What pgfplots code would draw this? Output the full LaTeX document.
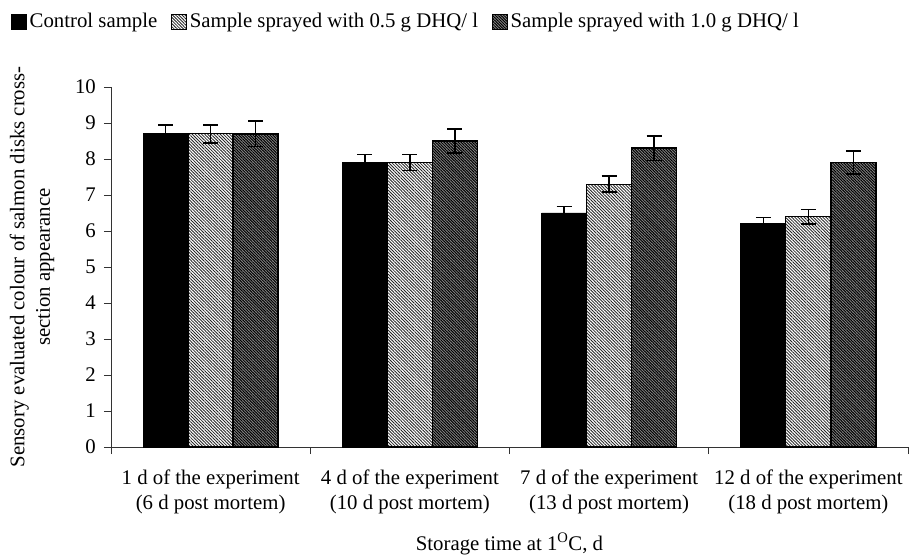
\documentclass[border=0pt]{standalone}
\usepackage{pgfplots}
\pgfplotsset{compat=1.18}
\usepackage{pgfplotstable}
\usepackage{fontspec}
\setmainfont{Liberation Serif}
\usetikzlibrary{patterns.meta}
\pgfplotstableread{
x c ce l le d de
0 8.7 0.25 8.7 0.25 8.7 0.35
1 7.9 0.22 7.9 0.22 8.5 0.33
2 6.5 0.18 7.3 0.22 8.3 0.34
3 6.2 0.18 6.4 0.20 7.9 0.32
}\data
\begin{document}
\fontsize{20.8bp}{25bp}\selectfont
\begin{tikzpicture}
\begin{axis}[
  scale only axis,
  width=797bp, height=360bp,
  xmin=-0.5, xmax=3.5, ymin=0, ymax=10,
  axis x line*=bottom, axis y line*=left,
  axis line style={-, draw=black!80, line width=0.9bp},
  ybar=0pt, bar width=0.226,
  xtick={0,1,2,3},
  xticklabels={{1 d of the experiment\\(6 d post mortem)},{4 d of the experiment\\(10 d post mortem)},{7 d of the experiment\\(13 d post mortem)},{12 d of the experiment\\(18 d post mortem)}},
  xticklabel style={align=center, font=\fontsize{20.8bp}{25bp}\selectfont, yshift=-9bp},
  major x tick style={draw=none},
  minor xtick={-0.5,0.5,1.5,2.5,3.5},
  minor x tick style={draw=black!80, line width=0.9bp},
  ytick={0,1,...,10},
  tick align=outside,
  major tick length=7bp, minor tick length=7bp,
  y tick style={draw=black!80, line width=0.9bp},
  /pgf/number format/assume math mode=true,
  yticklabel style={font=\fontsize{20.8bp}{25bp}\selectfont, xshift=-1bp},
  xlabel={Storage time at 1\textsuperscript{O}C, d},
  xlabel style={font=\fontsize{20.8bp}{25bp}\selectfont, yshift=-5bp},
  ylabel={Sensory evaluated colour of salmon disks cross-\\section appearance},
  ylabel style={at={([xshift=-79bp]rel axis cs:0,0.5)}, anchor=center, align=center,
    font=\fontsize{20.8bp}{25.5bp}\selectfont},
  legend columns=3,
  legend style={at={(axis description cs:-0.1292,1.1806)}, anchor=west, draw=none, fill=none,
    font=\fontsize{20.8bp}{25bp}\selectfont,
    /tikz/every odd column/.append style={column sep=1bp},
    /tikz/every even column/.append style={column sep=12bp}},
  legend image code/.code={\draw[#1, line width=0.5bp] (0bp,-7.5bp) rectangle (15bp,7.5bp);},
  error bars/error bar style={line width=1.6bp, black},
  error bars/error mark options={rotate=90, mark size=7.5bp, line width=1.6bp, black},
]
\addplot[fill=black, draw=black, line width=0.8bp,
  error bars/.cd, y dir=both, y explicit]
  table[x=x, y=c, y error=ce] {\data};
\addplot[fill=white, draw=black, line width=1.2bp,
  postaction={pattern={Lines[angle=-45, distance=2.2bp, line width=0.85bp]}, pattern color=black!85},
  error bars/.cd, y dir=both, y explicit]
  table[x=x, y=l, y error=le] {\data};
\addplot[fill=black!45, draw=black, line width=1.6bp,
  postaction={pattern={Lines[angle=-45, distance=2.0bp, line width=1.0bp]}, pattern color=black},
  error bars/.cd, y dir=both, y explicit]
  table[x=x, y=d, y error=de] {\data};
\legend{Control sample, Sample sprayed with 0.5 g DHQ/ l, Sample sprayed with 1.0 g DHQ/ l}
\coordinate (O) at (rel axis cs:0,0);
\coordinate (T) at (rel axis cs:1,1);
\end{axis}
\pgfresetboundingbox
\path ([shift={(-111bp,-111bp)}]O) rectangle ([shift={(9bp,87bp)}]T);
\end{tikzpicture}
\end{document}
